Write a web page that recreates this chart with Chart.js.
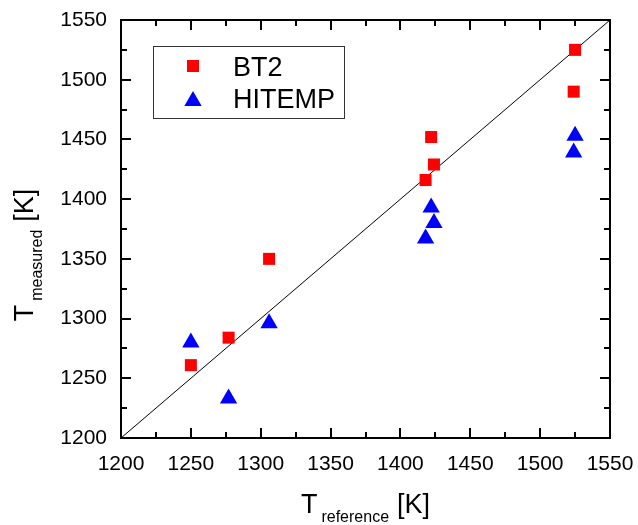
<!DOCTYPE html>
<html>
<head>
<meta charset="utf-8">
<title>T measured vs T reference</title>
<script src="https://cdn.jsdelivr.net/npm/chart.js@4.4.1/dist/chart.umd.min.js"></script>
<style>
  html, body { margin: 0; padding: 0; background: #fff; }
  canvas { display: block; }
</style>
</head>
<body>
<canvas id="tempChart" width="638" height="525"></canvas>
<script>
// reference temperature [K] vs measured temperature [K]
var bt2Ref = [1250, 1277, 1306, 1418, 1422, 1424, 1524, 1525];
var bt2Meas = [1261, 1284, 1350, 1416, 1452, 1429, 1490, 1525];

var hitempRef = [1250, 1277, 1306, 1418, 1422, 1424, 1524, 1525];
var hitempMeas = [1280, 1233, 1296, 1367, 1393, 1380, 1439, 1453];

// y = x guide line
var diagX = [1200, 1550];

var axisMin = 1200;
var axisMax = 1550;
var majorStep = 50;
var minorStep = 25;

var FONT = "'Liberation Sans', Arial, sans-serif";

function toPoints(xs, ys) {
  return xs.map(function (x, i) { return { x: x, y: ys[i] }; });
}

function plainTick(value) {
  return String(value);
}

// frame, inward ticks, axis titles and the boxed legend
var decorations = {
  id: "decorations",
  afterDraw: function (chart) {
    var ctx = chart.ctx;
    var area = chart.chartArea;
    var xs = chart.scales.x;
    var ys = chart.scales.y;

    ctx.save();
    ctx.strokeStyle = "#000";
    ctx.lineWidth = 2;
    ctx.strokeRect(area.left, area.top, area.right - area.left, area.bottom - area.top);

    ctx.beginPath();
    for (var v = axisMin + minorStep; v < axisMax; v += minorStep) {
      var len = v % majorStep === 0 ? 10 : 6;
      var px = Math.round(xs.getPixelForValue(v));
      ctx.moveTo(px, area.bottom);
      ctx.lineTo(px, area.bottom - len);
      ctx.moveTo(px, area.top);
      ctx.lineTo(px, area.top + len);
      var py = Math.round(ys.getPixelForValue(v));
      ctx.moveTo(area.left, py);
      ctx.lineTo(area.left + len, py);
      ctx.moveTo(area.right, py);
      ctx.lineTo(area.right - len, py);
    }
    ctx.stroke();

    // axis titles with subscripts
    ctx.fillStyle = "#000";
    ctx.textBaseline = "alphabetic";
    drawSubTitle(ctx, "T", "reference", "[K]", (area.left + area.right) / 2, 513);
    ctx.save();
    ctx.translate(33, 255);
    ctx.rotate(-Math.PI / 2);
    drawSubTitle(ctx, "T", "measured", "[K]", 0, 0);
    ctx.restore();

    // legend
    ctx.lineWidth = 1;
    ctx.strokeStyle = "#333";
    ctx.strokeRect(153.5, 46.5, 191, 72);
    ctx.font = "27px " + FONT;
    ctx.textAlign = "left";
    var rows = [
      { ds: chart.data.datasets[0], y: 66, base: 76 },
      { ds: chart.data.datasets[1], y: 101, base: 108 }
    ];
    rows.forEach(function (r) {
      ctx.fillStyle = r.ds.backgroundColor;
      ctx.strokeStyle = r.ds.backgroundColor;
      Chart.helpers.drawPoint(ctx, {
        pointStyle: r.ds.pointStyle,
        radius: r.ds.pointRadius,
        borderWidth: 0,
        rotation: 0
      }, 193, r.y);
      ctx.fillStyle = "#000";
      ctx.fillText(r.ds.label, 233, r.base);
    });
    ctx.restore();
  }
};

function drawSubTitle(ctx, main, sub, unit, cx, base) {
  var mainFont = "27px " + FONT;
  var subFont = "16px " + FONT;
  ctx.font = mainFont;
  var wMain = ctx.measureText(main).width;
  var wUnit = ctx.measureText(unit).width;
  ctx.font = subFont;
  var wSub = ctx.measureText(sub).width;
  var gap1 = 4;
  var gap2 = 8;
  var total = wMain + gap1 + wSub + gap2 + wUnit;
  var x = cx - total / 2;
  ctx.textAlign = "left";
  ctx.font = mainFont;
  ctx.fillText(main, x, base);
  x += wMain + gap1;
  ctx.font = subFont;
  ctx.fillText(sub, x, base + 9);
  x += wSub + gap2;
  ctx.font = mainFont;
  ctx.fillText(unit, x, base);
}

var ctx = document.getElementById("tempChart").getContext("2d");
var chart = new Chart(ctx, {
  type: "scatter",
  data: {
    datasets: [
      {
        label: "BT2",
        data: toPoints(bt2Ref, bt2Meas),
        pointStyle: "rect",
        pointRadius: 8.5,
        pointHoverRadius: 8.5,
        backgroundColor: "#ff0000",
        borderColor: "#ff0000",
        borderWidth: 0,
        order: 2
      },
      {
        label: "HITEMP",
        data: toPoints(hitempRef, hitempMeas),
        pointStyle: "triangle",
        pointRadius: 10,
        pointHoverRadius: 10,
        backgroundColor: "#0000ff",
        borderColor: "#0000ff",
        borderWidth: 0,
        order: 1
      },
      {
        type: "line",
        label: "y = x",
        data: toPoints(diagX, diagX),
        borderColor: "#000",
        borderWidth: 1,
        pointRadius: 0,
        fill: false,
        order: 3
      }
    ]
  },
  options: {
    responsive: false,
    animation: false,
    layout: { padding: { left: 0, top: 20, right: 28, bottom: 0 } },
    plugins: {
      legend: { display: false },
      tooltip: { enabled: false }
    },
    scales: {
      x: {
        type: "linear",
        min: axisMin,
        max: axisMax,
        grid: { display: false, drawTicks: false },
        border: { display: false },
        ticks: {
          stepSize: majorStep,
          padding: 14,
          color: "#000",
          font: { family: FONT, size: 21 },
          maxRotation: 0,
          callback: plainTick
        },
        afterFit: function (scale) {
          scale.height = 87;
          scale.paddingLeft = 0;
          scale.paddingRight = 0;
        }
      },
      y: {
        type: "linear",
        min: axisMin,
        max: axisMax,
        grid: { display: false, drawTicks: false },
        border: { display: false },
        ticks: {
          stepSize: majorStep,
          padding: 14,
          color: "#000",
          font: { family: FONT, size: 21 },
          callback: plainTick
        },
        afterFit: function (scale) {
          scale.width = 121;
          scale.paddingTop = 0;
          scale.paddingBottom = 0;
        }
      }
    }
  },
  plugins: [decorations]
});
</script>
</body>
</html>
